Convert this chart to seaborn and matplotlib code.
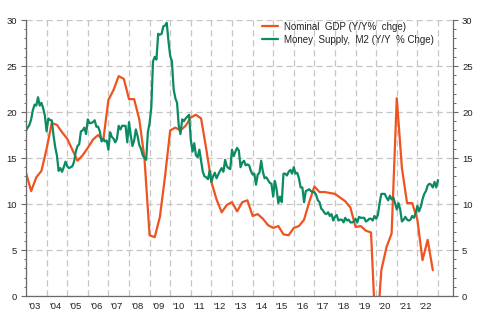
import numpy as np
import pandas as pd
import matplotlib
matplotlib.use("Agg")
import matplotlib.pyplot as plt
import seaborn as sns
from matplotlib.ticker import MultipleLocator, FixedLocator, NullFormatter

# ---------------- data ----------------
gdp_label = "Nominal  GDP (Y/Y%  chge)"
m2_label = "Money  Supply,  M2 (Y/Y  % Chge)"

gdp_first_year = 2003          # quarterly, from 2003 Q1
gdp_values = [
    13.4, 11.4, 12.9, 13.6, 16.0, 18.8, 18.6, 17.8, 17.1, 15.9,
    14.7, 15.3, 16.1, 17.0, 17.5, 16.9, 21.3, 22.4, 23.9, 23.6,
    21.4, 21.4, 19.2, 15.0, 6.6, 6.4, 8.6, 13.0, 18.0, 18.3,
    18.0, 18.5, 19.4, 19.7, 19.3, 16.0, 12.4, 10.5, 9.1, 9.9,
    10.2, 9.2, 10.2, 10.4, 8.7, 8.9, 8.4, 7.7, 7.4, 7.6,
    6.7, 6.6, 7.4, 7.6, 8.3, 10.2, 11.9, 11.3, 11.3, 11.2,
    11.1, 10.7, 10.3, 9.6, 7.5, 7.6, 7.1, 6.9, -5.3, 2.8,
    5.3, 6.8, 21.5, 13.9, 10.1, 10.1, 8.3, 3.9, 6.1, 2.8,
]

m2_first_year = 2003           # monthly, from Jan 2003
m2_2003 = [18.0, 18.3, 18.6, 19.2, 20.2, 20.8, 20.7, 21.6, 20.7, 21.0, 20.4, 19.6]
m2_2004 = [17.9, 19.3, 19.1, 19.1, 17.5, 16.2, 15.3, 13.6, 13.9, 13.5, 14.0, 14.6]
m2_2005 = [14.1, 13.9, 14.0, 14.1, 14.6, 15.7, 16.3, 16.5, 17.9, 18.0, 18.3, 17.6]
m2_2006 = [19.2, 18.8, 18.8, 18.9, 19.1, 18.4, 18.4, 17.9, 16.8, 17.1, 16.8, 16.9]
m2_2007 = [15.9, 17.8, 17.3, 17.1, 16.7, 17.1, 18.5, 18.1, 18.5, 18.5, 18.5, 16.7]
m2_2008 = [18.9, 17.5, 16.3, 16.9, 18.1, 17.4, 16.4, 16.0, 15.3, 15.0, 14.8, 17.8]
m2_2009 = [18.8, 20.5, 25.5, 26.0, 25.7, 28.5, 28.4, 28.5, 29.3, 29.4, 29.7, 27.7]
m2_2010 = [26.1, 25.5, 22.5, 21.5, 21.0, 18.5, 17.6, 19.2, 19.0, 19.3, 19.5, 19.7]
m2_2011 = [17.0, 15.7, 16.6, 15.3, 15.1, 15.9, 14.7, 13.5, 13.0, 12.9, 12.7, 13.6]
m2_2012 = [12.4, 13.0, 13.4, 12.8, 13.2, 13.6, 13.9, 13.5, 14.8, 14.1, 13.9, 13.8]
m2_2013 = [15.9, 15.2, 15.7, 16.1, 15.8, 14.0, 14.5, 14.7, 14.2, 14.3, 14.2, 13.6]
m2_2014 = [13.2, 13.3, 12.1, 13.2, 13.4, 14.7, 13.5, 12.8, 12.9, 12.6, 12.3, 12.2]
m2_2015 = [10.8, 12.5, 11.6, 10.1, 10.8, 10.2, 13.3, 13.3, 13.1, 13.5, 13.7, 13.3]
m2_2016 = [14.0, 13.3, 13.4, 12.8, 11.8, 11.8, 10.2, 11.4, 11.5, 11.6, 11.4, 11.3]
m2_2017 = [11.3, 11.0, 10.4, 10.2, 9.5, 9.3, 9.0, 8.9, 9.1, 8.7, 8.9, 8.2]
m2_2018 = [8.6, 8.8, 8.2, 8.3, 8.3, 8.0, 8.5, 8.2, 8.3, 8.0, 8.0, 8.1]
m2_2019 = [8.4, 8.0, 8.6, 8.5, 8.5, 8.5, 8.1, 8.2, 8.4, 8.4, 8.2, 8.7]
m2_2020 = [8.4, 8.8, 10.1, 11.1, 11.1, 11.1, 10.7, 10.4, 10.9, 10.5, 10.7, 10.1]
m2_2021 = [9.4, 10.1, 9.4, 8.1, 8.3, 8.6, 8.3, 8.2, 8.3, 8.7, 8.5, 9.0]
m2_2022 = [9.8, 9.2, 9.7, 10.5, 11.1, 11.4, 12.0, 12.2, 12.1, 11.8, 12.4, 11.8]
m2_2023 = [12.6]

year_ticks = list(range(2003, 2024))
year_labels = ["'03", "'04", "'05", "'06", "'07", "'08", "'09", "'10", "'11", "'12",
               "'13", "'14", "'15", "'16", "'17", "'18", "'19", "'20", "'21", "'22"]

# ---------------- build frames ----------------
m2_values = (m2_2003 + m2_2004 + m2_2005 + m2_2006 + m2_2007 + m2_2008 + m2_2009
             + m2_2010 + m2_2011 + m2_2012 + m2_2013 + m2_2014 + m2_2015 + m2_2016
             + m2_2017 + m2_2018 + m2_2019 + m2_2020 + m2_2021 + m2_2022 + m2_2023)

gdp_df = pd.DataFrame({"t": gdp_first_year + np.arange(len(gdp_values)) / 4.0,
                       "v": gdp_values, "series": gdp_label})
m2_df = pd.DataFrame({"t": m2_first_year + np.arange(len(m2_values)) / 12.0,
                      "v": m2_values, "series": m2_label})
df = pd.concat([gdp_df, m2_df], ignore_index=True)

# ---------------- style ----------------
sns.set_style("white")
plt.rcParams["font.family"] = ["Liberation Sans", "DejaVu Sans"]

orange = "#EE5320"
green = "#0B8A63"
axis_col = "#6a6a6a"
grid_col = "#c6c6c6"
text_col = "#222222"

fig = plt.figure(figsize=(4.81, 3.21), dpi=100)
ax = fig.add_axes([26 / 481, 25 / 321, 427 / 481, 276 / 321])

sns.lineplot(data=df, x="t", y="v", hue="series", hue_order=[gdp_label, m2_label],
             palette={gdp_label: orange, m2_label: green}, linewidth=1.6,
             errorbar=None, estimator=None, ax=ax, legend=True)

ax.set_xlim(2003.0, 2023.73)
ax.set_ylim(0, 30)
ax.set_xlabel("")
ax.set_ylabel("")

# x axis: year boundaries (grid + ticks), quarter minor ticks, labels at mid-year
ax.xaxis.set_major_locator(FixedLocator(year_ticks))
ax.xaxis.set_major_formatter(NullFormatter())
ax.xaxis.set_minor_locator(MultipleLocator(0.25))
ax.tick_params(axis="x", which="major", length=3.5, width=0.8, color=axis_col, direction="out")
ax.tick_params(axis="x", which="minor", length=1.8, width=0.7, color=axis_col, direction="out")

sec = ax.secondary_xaxis("bottom")
sec.set_xticks([y + 0.42 for y in year_ticks[:-1]], labels=year_labels)
sec.tick_params(length=0, pad=4.2, labelsize=6.8, labelcolor=text_col)
sec.spines["bottom"].set_visible(False)

# y axis both sides
ax.yaxis.set_major_locator(MultipleLocator(5))
ax.yaxis.set_minor_locator(MultipleLocator(1))
ax.tick_params(axis="y", which="both", left=True, right=True, labelleft=True,
               labelright=True, color=axis_col, direction="out")
ax.tick_params(axis="y", which="major", length=3.5, width=0.8, pad=3.0,
               labelsize=6.8, labelcolor=text_col)
ax.tick_params(axis="y", which="minor", length=1.8, width=0.7)

ax.grid(True, which="major", color=grid_col, linestyle=(0, (5, 3)), linewidth=0.9)
ax.set_axisbelow(True)

for s in ["left", "right", "bottom"]:
    ax.spines[s].set_visible(True)
    ax.spines[s].set_color(axis_col)
    ax.spines[s].set_linewidth(0.9)
ax.spines["top"].set_visible(False)

leg = ax.legend(loc="upper left", bbox_to_anchor=(0.553, 0.994), frameon=False,
                fontsize=7, handlelength=1.65, handletextpad=0.6, borderpad=0,
                borderaxespad=0, labelspacing=0.3)
for t in leg.get_texts():
    t.set_color(text_col)
for h in leg.get_lines():
    h.set_linewidth(1.6)

fig.savefig("out.png", dpi=100)
